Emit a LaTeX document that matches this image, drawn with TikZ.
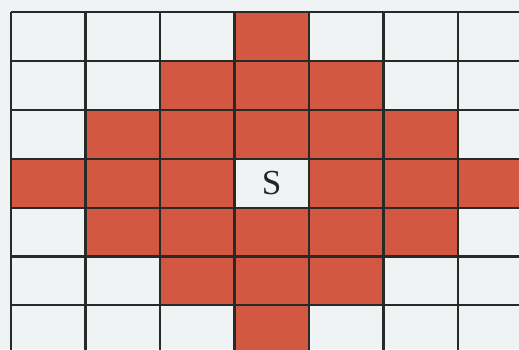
\documentclass[tikz,border=0pt]{standalone}
\usepackage{tikz}
\usepackage{fontspec}
\setmainfont{Liberation Serif}
\definecolor{paper}{RGB}{240,243,243}
\definecolor{cellred}{RGB}{210,88,66}
\definecolor{gridgray}{RGB}{40,42,42}

\begin{document}
\begin{tikzpicture}[
    x=0.02cm,
    y=0.02cm,
    cell/.style={fill=cellred},
    gridline/.style={draw=gridgray, line width=1.2pt},
    startlbl/.style={font=\fontsize{20}{24}\selectfont, text=gridgray!90!black, inner sep=0pt}
]

% ============================================================
% RAHMEN
% ============================================================
\useasboundingbox (0,0) rectangle (519,349);
\fill[paper] (0,0) rectangle (519,349);
\clip (0,0) rectangle (519,349);

% ============================================================
% ROTE ZELLEN (Abstand 1..3 vom Start)
% ============================================================
\foreach \i in {0,...,6} {
    \foreach \j in {0,...,6} {
        \pgfmathtruncatemacro{\dist}{abs(\i-3)+abs(\j-3)}
        \ifnum\dist<4 \ifnum\dist>0
            \fill[cell] ({11+74.5*\i},{337-48.9*\j}) rectangle ++(74.5,-48.9);
        \fi\fi
    }
}

% ============================================================
% GITTER
% ============================================================
\foreach \i in {0,...,6}
    \draw[gridline] ({11+74.5*\i},337) -- ({11+74.5*\i},-10);
\foreach \j in {0,...,6}
    \draw[gridline] (11,{337-48.9*\j}) -- (530,{337-48.9*\j});

% ============================================================
% STARTFELD
% ============================================================
\node[startlbl] (start) at ({11+74.5*3.5},{337-48.9*3.5}) {S};

\end{tikzpicture}
\end{document}
